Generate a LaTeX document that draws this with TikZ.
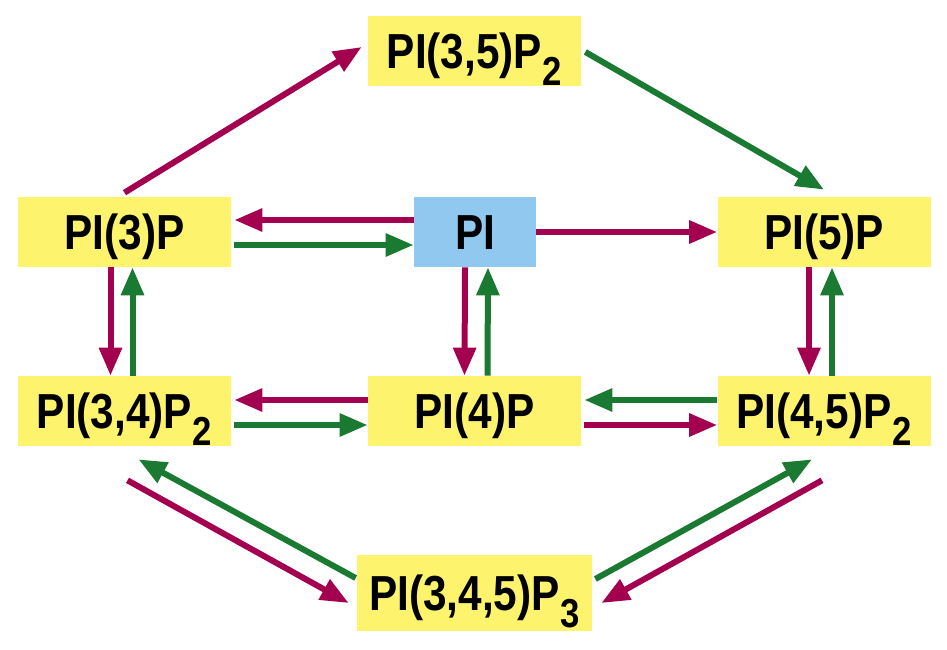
\documentclass[tikz,border=0pt]{standalone}
\usepackage{fontspec}
\setmainfont[FakeStretch=0.86]{Liberation Sans}
\usepackage{tikz}
\usetikzlibrary{arrows.meta,positioning,calc}
\definecolor{lipidyellow}{HTML}{FEF36C}
\definecolor{lipidblue}{HTML}{90C8F0}
\definecolor{kinasered}{HTML}{A3004F}
\definecolor{phosgreen}{HTML}{1B7A31}
\newcommand{\sub}[1]{\kern0.5pt\raisebox{-9.5pt}{\fontsize{23}{23}\selectfont #1}}

\begin{document}
\begin{tikzpicture}[x=0.2mm, y=-0.2mm,
  box/.style={fill=lipidyellow, minimum width=213*0.2mm, minimum height=70*0.2mm,
              inner sep=0pt, text height=20pt, text depth=0pt,
              font=\fontsize{28}{28}\selectfont\bfseries},
  pibox/.style={box, fill=lipidblue, minimum width=122*0.2mm},
  kin/.style={-{Triangle[length=5.6mm, width=4.4mm]}, line width=1.2mm, draw=kinasered},
  pho/.style={-{Triangle[length=5.6mm, width=4.4mm]}, line width=1.2mm, draw=phosgreen}
]
\useasboundingbox (0,0) rectangle (947,649);

\node[box] (p35) at (474.5,51) {PI(3,5)P\sub{2}};
\node[box] (p3) at (124.5,232) {PI(3)P};
\node[pibox] (pi) at (475,232) {PI};
\node[box] (p5) at (824,232) {PI(5)P};
\node[box] (p34) at (124.5,411) {PI(3,4)P\sub{2}};
\node[box] (p4) at (474.5,411) {PI(4)P};
\node[box] (p45) at (824,411) {PI(4,5)P\sub{2}};
\node[box, minimum width=235*0.2mm, minimum height=76*0.2mm] (p345) at (474.5,593) {PI(3,4,5)P\sub{3}};

% top row
\draw[kin] ($(pi.west)+(0,-12)$) -- ($(p3.east)+(3,-12)$);
\draw[pho] ($(p3.east)+(3,13)$) -- ($(pi.west)+(0,13)$);
\draw[kin] (pi.east) -- (p5.west);
\draw[kin] ($(p3.north)+(0,-4)$) -- ($(p35.west)+(-6,-4)$);
\draw[pho] ($(p35.east)+(4,1)$) -- ($(p5.north)+(0,-7)$);

% verticals
\draw[kin] ($(p3.south)+(-14,0)$) -- ($(p34.north)+(-14,0)$);
\draw[pho] ($(p34.north)+(8,0)$) -- ($(p3.south)+(8,0)$);
\draw[kin] ($(pi.south)+(-10,0)$) -- ($(p4.north)+(-10,0)$);
\draw[pho] ($(p4.north)+(13,0)$) -- ($(pi.south)+(13,0)$);
\draw[kin] ($(p5.south)+(-15,0)$) -- ($(p45.north)+(-15,0)$);
\draw[pho] ($(p45.north)+(8,0)$) -- ($(p5.south)+(8,0)$);

% middle row
\draw[kin] ($(p4.west)+(0,-11)$) -- ($(p34.east)+(3,-11)$);
\draw[pho] ($(p34.east)+(3,14)$) -- ($(p4.west)+(0,14)$);
\draw[pho] ($(p45.west)+(0,-11)$) -- ($(p4.east)+(3,-11)$);
\draw[kin] ($(p4.east)+(3,14)$) -- ($(p45.west)+(0,14)$);

% bottom diagonals
\draw[kin] ($(p34.south)+(3,34)$) -- ($(p345.west)+(-8,10)$);
\draw[pho] ($(p345.west)+(-1,-15)$) -- ($(p34.south)+(14,13)$);
\draw[pho] ($(p345.east)+(3,-14)$) -- ($(p45.south)+(-12,13)$);
\draw[kin] ($(p45.south)+(-2,34)$) -- ($(p345.east)+(9,10)$);
\end{tikzpicture}
\end{document}
